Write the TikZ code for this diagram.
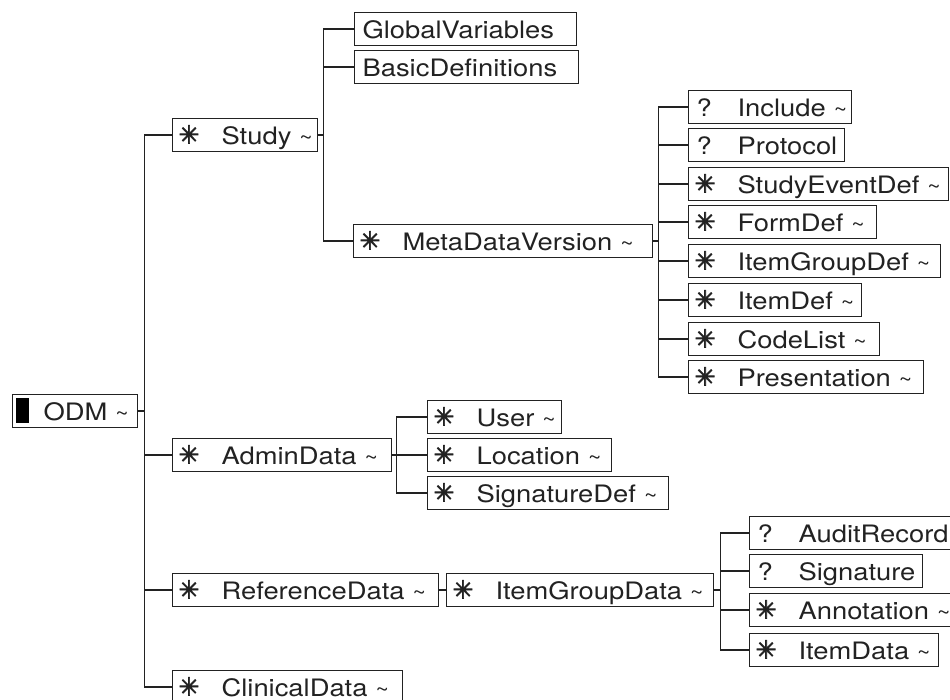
\documentclass[tikz,border=0pt]{standalone}
\usepackage{fontspec}
\setmainfont{TeX Gyre Heros}[FakeStretch=1.14]
\newfontfamily\symfont{DejaVu Sans}[FakeBold=2.5]
\usetikzlibrary{calc}
\definecolor{ink}{HTML}{222222}
\tikzset{
  el/.style={draw=ink, line width=1.2pt, anchor=west, minimum height=33pt,
    inner xsep=8pt, inner ysep=2pt, text height=24pt, text depth=5pt,
    align=left, font=\fontsize{24}{26}\selectfont, text=ink},
  conn/.style={draw=ink, line width=1.2pt},
}
\newcommand\tl{ {\fontsize{20}{20}\selectfont\textasciitilde}}
\newcommand\mystar{\makebox[41pt][l]{\hspace{-2pt}\raisebox{1pt}{\symfont\bfseries\fontsize{25}{25}\selectfont ✳}}}
\newcommand\myopt{\makebox[41pt][l]{?}}
\begin{document}
\begin{tikzpicture}[x=1pt,y=-1pt]
\useasboundingbox (0,0) rectangle (950,700);
% nodes
\node[el, inner xsep=3pt, text width=119pt] (ODM) at (12,411)
  {\mbox{\makebox[28pt][l]{\raisebox{-2.5pt}{\color{black}\rule{13pt}{25pt}}}ODM\tl}};
\node[el, text width=129pt] (Study) at (172,135) {\mbox{\mystar Study\tl}};
\node[el, text width=206pt] (GV) at (354,29) {\mbox{GlobalVariables}};
\node[el, text width=208pt] (BD) at (354,67) {\mbox{BasicDefinitions}};
\node[el, text width=283pt] (MDV) at (353,241) {\mbox{\mystar MetaDataVersion\tl}};
\node[el, text width=147pt] (Include) at (688,107) {\mbox{\myopt Include\tl}};
\node[el, text width=140pt] (Protocol) at (688,145) {\mbox{\myopt Protocol}};
\node[el, text width=244pt] (SED) at (688,184) {\mbox{\mystar StudyEventDef\tl}};
\node[el, text width=172pt] (FormDef) at (688,222) {\mbox{\mystar FormDef\tl}};
\node[el, text width=236pt] (IGDef) at (688,261) {\mbox{\mystar ItemGroupDef\tl}};
\node[el, text width=157pt] (ItemDef) at (688,300) {\mbox{\mystar ItemDef\tl}};
\node[el, text width=175pt] (CodeList) at (688,339) {\mbox{\mystar CodeList\tl}};
\node[el, text width=219pt] (Pres) at (688,377) {\mbox{\mystar Presentation\tl}};
\node[el, text width=203pt] (Admin) at (172,455) {\mbox{\mystar AdminData\tl}};
\node[el, text width=118pt] (User) at (427,417) {\mbox{\mystar User\tl}};
\node[el, text width=168pt] (Loc) at (427,455) {\mbox{\mystar Location\tl}};
\node[el, text width=225pt] (SigDef) at (427,493) {\mbox{\mystar SignatureDef\tl}};
\node[el, text width=250pt] (Ref) at (172,590) {\mbox{\mystar ReferenceData\tl}};
\node[el, text width=251pt] (IGData) at (446,590) {\mbox{\mystar ItemGroupData\tl}};
\node[el, text width=187pt] (Audit) at (749,533) {\mbox{\myopt AuditRecord}};
\node[el, text width=157pt] (Sig) at (749,571) {\mbox{\myopt Signature}};
\node[el, text width=189pt] (Annot) at (749,610) {\mbox{\mystar Annotation\tl}};
\node[el, text width=173pt] (ItemData) at (749,650) {\mbox{\mystar ItemData\tl}};
\node[el, text width=214pt] (Clin) at (172,687) {\mbox{\mystar ClinicalData\tl}};
% junctions
\coordinate (jODM) at ($(ODM.east)+(6,0)$);
\coordinate (jStudy) at ($(Study.east)+(5,0)$);
\coordinate (jMDV) at ($(MDV.east)+(5,0)$);
\coordinate (jAdmin) at ($(Admin.east)+(4,0)$);
\coordinate (jIGData) at ($(IGData.east)+(6,0)$);
% connectors
\draw[conn] (ODM.east) -- (jODM);
\foreach \c in {Study,Admin,Ref,Clin} \draw[conn] (jODM) |- (\c.west);
\draw[conn] (Study.east) -- (jStudy);
\foreach \c in {GV,BD,MDV} \draw[conn] (jStudy) |- (\c.west);
\draw[conn] (MDV.east) -- (jMDV);
\foreach \c in {Include,Protocol,SED,FormDef,IGDef,ItemDef,CodeList,Pres} \draw[conn] (jMDV) |- (\c.west);
\draw[conn] (Admin.east) -- (jAdmin);
\foreach \c in {User,Loc,SigDef} \draw[conn] (jAdmin) |- (\c.west);
\draw[conn] (Ref.east) -- (IGData.west);
\draw[conn] (IGData.east) -- (jIGData);
\foreach \c in {Audit,Sig,Annot,ItemData} \draw[conn] (jIGData) |- (\c.west);
\end{tikzpicture}
\end{document}
